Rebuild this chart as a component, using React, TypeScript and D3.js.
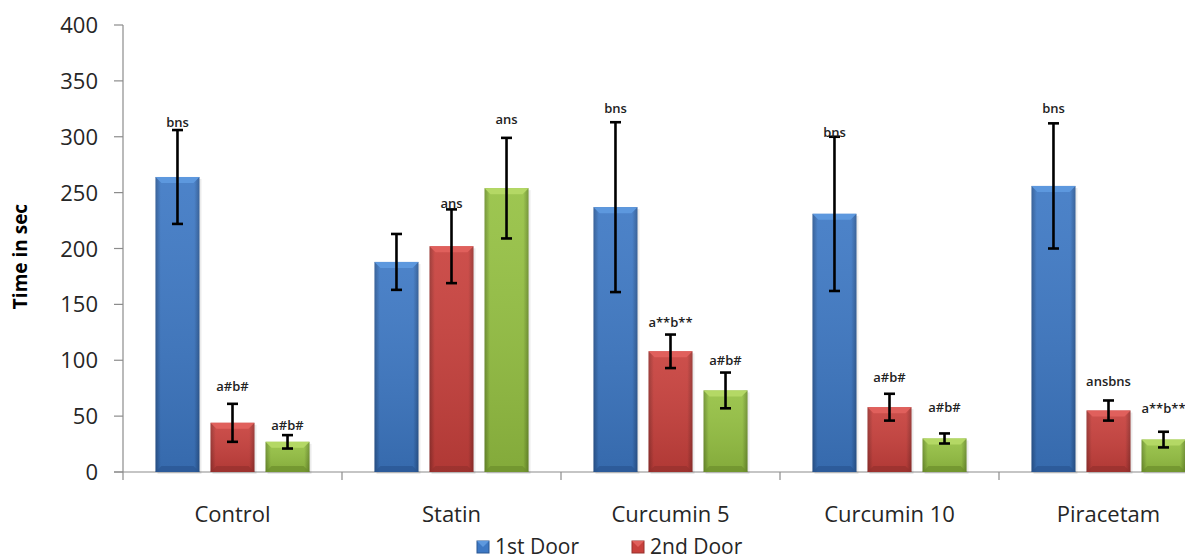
import * as d3 from 'd3'

const WIDTH = 1185
const HEIGHT = 559
const MARGIN = { top: 25, left: 123, bottom: 87 }
const CATEGORY_STEP = 219

const categories = ['Control', 'Statin', 'Curcumin 5', 'Curcumin 10', 'Piracetam']
const seriesNames = ['1st Door', '2nd Door', '3rd Door']
const legendNames = ['1st Door', '2nd Door']

const door1 = [264, 188, 237, 231, 256]
const door1Err = [42, 25, 76, 69, 56]
const door2 = [44, 202, 108, 58, 55]
const door2Err = [17, 33, 15, 12, 9]
const door3 = [27, 254, 73, 30, 29]
const door3Err = [6, 45, 16, 4.5, 7]

const door1Labels = ['bns', '', 'bns', 'bns', 'bns']
const door2Labels = ['a#b#', 'ans', 'a**b**', 'a#b#', 'ansbns']
const door3Labels = ['a#b#', 'ans', 'a#b#', 'a#b#', 'a**b**']
// where each label sits, in axis units
const door1LabelAt = [313, 0, 326, 304, 326]
const door2LabelAt = [77, 241, 134, 85, 81]
const door3LabelAt = [42, 316, 100, 58, 57]

const yTicks = [0, 50, 100, 150, 200, 250, 300, 350, 400]

const palette = [
  { light: '#5d98de', mid: '#3d78c4', dark: '#2a5691' },
  { light: '#e0605c', mid: '#c8403c', dark: '#96302d' },
  { light: '#b4d865', mid: '#95c142', dark: '#6c8f2c' },
]

const series = [
  { values: door1, errors: door1Err, labels: door1Labels, labelAt: door1LabelAt },
  { values: door2, errors: door2Err, labels: door2Labels, labelAt: door2LabelAt },
  { values: door3, errors: door3Err, labels: door3Labels, labelAt: door3LabelAt },
]

const FONT = '"Open Sans", "Noto Sans", sans-serif'

export default function App() {
  const x = d3
    .scaleBand()
    .domain(categories)
    .range([MARGIN.left, MARGIN.left + categories.length * CATEGORY_STEP])
  const inner = d3
    .scaleBand()
    .domain(seriesNames)
    .range([0, CATEGORY_STEP])
    .paddingInner(0.2)
    .paddingOuter(0.59)
  const y = d3
    .scaleLinear()
    .domain([0, 400])
    .range([HEIGHT - MARGIN.bottom, MARGIN.top])

  const bw = inner.bandwidth()
  const y0 = y(0)
  const bev = 6

  return (
    <svg
      width={WIDTH}
      height={HEIGHT}
      style={{ position: 'absolute', left: 0, top: 0, background: '#fff' }}
      fontFamily={FONT}
    >
      <defs>
        {palette.map((c, i) => (
          <linearGradient key={i} id={`grad${i}`} x1="0" x2="1" y1="0" y2="0">
            <stop offset="0%" stopColor={c.dark} />
            <stop offset="12%" stopColor={c.mid} />
            <stop offset="88%" stopColor={c.mid} />
            <stop offset="100%" stopColor={c.dark} />
          </linearGradient>
        ))}
        {palette.map((c, i) => (
          <linearGradient key={i} id={`vgrad${i}`} x1="0" x2="0" y1="0" y2="1">
            <stop offset="0%" stopColor="#ffffff" stopOpacity={0.08} />
            <stop offset="100%" stopColor="#000000" stopOpacity={0.12} />
          </linearGradient>
        ))}
        <clipPath id="plotClip">
          <rect x={0} y={0} width={WIDTH} height={HEIGHT} />
        </clipPath>
      </defs>

      {/* y axis */}
      <line x1={MARGIN.left} x2={MARGIN.left} y1={y(400)} y2={y0} stroke="#8c8c8c" strokeWidth={1.2} />
      {yTicks.map((t) => (
        <g key={t}>
          <line x1={MARGIN.left - 9} x2={MARGIN.left} y1={y(t)} y2={y(t)} stroke="#8c8c8c" strokeWidth={1.2} />
          <text x={98} y={y(t) + 8} textAnchor="end" fontSize={22} fill="#262626">
            {t}
          </text>
        </g>
      ))}
      <text
        transform={`translate(27,${(y(400) + y0) / 2 + 8}) rotate(-90)`}
        textAnchor="middle"
        fontSize={19}
        fontWeight={700}
        fill="#000"
      >
        Time in sec
      </text>

      {/* x axis */}
      <line x1={MARGIN.left - 9} x2={WIDTH} y1={y0} y2={y0} stroke="#8c8c8c" strokeWidth={1.2} />
      {categories.map((c) => (
        <line
          key={c}
          x1={x(c)!}
          x2={x(c)!}
          y1={y0}
          y2={y0 + 8}
          stroke="#8c8c8c"
          strokeWidth={1.2}
        />
      ))}

      {/* bars */}
      <g clipPath="url(#plotClip)">
        {categories.map((c, ci) =>
          series.map((s, si) => {
            const bx = x(c)! + inner(seriesNames[si])!
            const by = y(s.values[ci])
            const h = y0 - by
            const col = palette[si]
            return (
              <g key={`${c}-${si}`}>
                <rect x={bx + 2} y={by + 2} width={bw} height={h} fill="#000" opacity={0.08} />
                <rect x={bx} y={by} width={bw} height={h} fill={`url(#grad${si})`} />
                <rect x={bx} y={by} width={bw} height={h} fill={`url(#vgrad${si})`} />
                <polygon
                  points={`${bx},${by} ${bx + bw},${by} ${bx + bw - bev},${by + bev} ${bx + bev},${by + bev}`}
                  fill={col.light}
                />
                <polygon
                  points={`${bx},${y0} ${bx + bw},${y0} ${bx + bw - bev},${y0 - bev} ${bx + bev},${y0 - bev}`}
                  fill={col.dark}
                  opacity={0.7}
                />
              </g>
            )
          }),
        )}

        {/* error bars */}
        {categories.map((c, ci) =>
          series.map((s, si) => {
            const cx = x(c)! + inner(seriesNames[si])! + bw / 2
            const hi = y(s.values[ci] + s.errors[ci])
            const lo = y(s.values[ci] - s.errors[ci])
            return (
              <g key={`e-${c}-${si}`} stroke="#000" strokeWidth={2.6}>
                <line x1={cx} x2={cx} y1={hi} y2={lo} />
                <line x1={cx - 5.5} x2={cx + 5.5} y1={hi} y2={hi} />
                <line x1={cx - 5.5} x2={cx + 5.5} y1={lo} y2={lo} />
              </g>
            )
          }),
        )}

        {/* significance labels */}
        {categories.map((c, ci) =>
          series.map((s, si) =>
            s.labels[ci] ? (
              <text
                key={`l-${c}-${si}`}
                x={x(c)! + inner(seriesNames[si])! + bw / 2}
                y={y(s.labelAt[ci]) + 5}
                textAnchor="middle"
                fontSize={13}
                fontWeight={600}
                fill="#222"
              >
                {s.labels[ci]}
              </text>
            ) : null,
          ),
        )}
      </g>

      {/* category labels */}
      {categories.map((c) => (
        <text
          key={c}
          x={x(c)! + x.bandwidth() / 2}
          y={522}
          textAnchor="middle"
          fontSize={22}
          fill="#262626"
        >
          {c}
        </text>
      ))}

      {/* legend */}
      {legendNames.map((name, i) => {
        const lx = 477 + i * 155
        const col = palette[i]
        return (
          <g key={name}>
            <rect x={lx} y={541} width={12} height={12} fill={col.mid} stroke={col.dark} strokeWidth={1} />
            <polygon points={`${lx},${541} ${lx + 12},${541} ${lx + 6},${547}`} fill={col.light} />
            <text x={lx + 18} y={554} fontSize={21} fill="#262626">
              {name}
            </text>
          </g>
        )
      })}
    </svg>
  )
}
